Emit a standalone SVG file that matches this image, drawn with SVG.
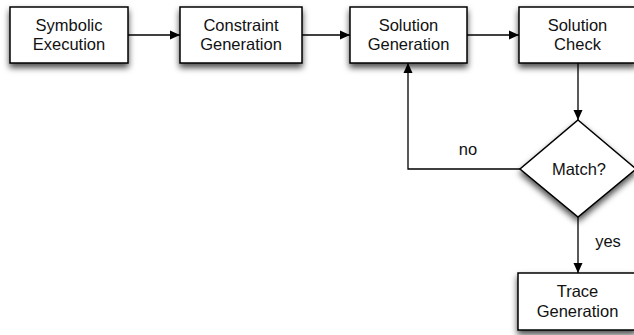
<svg xmlns="http://www.w3.org/2000/svg" width="634" height="335" viewBox="0 0 634 335">
<defs>
<filter id="sh" x="-20%" y="-20%" width="140%" height="150%">
<feDropShadow dx="0" dy="4" stdDeviation="3" flood-color="#000" flood-opacity="0.7"/>
</filter>
<marker id="ah" viewBox="0 0 10 10" refX="10" refY="5" markerWidth="10" markerHeight="10" markerUnits="userSpaceOnUse" orient="auto">
<path d="M0,0.5 L10,5 L0,9.5 Z" fill="#000"/>
</marker>
<style>
.box{fill:#fff;stroke:#000;stroke-width:1.5;filter:url(#sh)}
.t{font-family:"Liberation Sans",Arial,Helvetica,sans-serif;font-size:16.5px;fill:#111;text-anchor:middle}
.c{fill:none;stroke:#000;stroke-width:1.3;marker-end:url(#ah)}
</style>
</defs>
<rect width="634" height="335" fill="#fff"/>
<g id="connectors">
<path class="c" d="M128,35 H180"/>
<path class="c" d="M302,35 H350"/>
<path class="c" d="M467,35 H519"/>
<path class="c" d="M578,63 V120"/>
<path class="c" d="M520,169 H408 V63"/>
<path class="c" d="M578,217 V273"/>
<text class="t" x="468" y="155">no</text>
<text class="t" x="608" y="247">yes</text>
</g>
<g id="symbolic-execution">
<rect class="box" x="10" y="7" width="118" height="56"/>
<text class="t" x="69" y="31">Symbolic</text>
<text class="t" x="69" y="50">Execution</text>
</g>
<g id="constraint-generation">
<rect class="box" x="180" y="7" width="122" height="56"/>
<text class="t" x="241" y="31">Constraint</text>
<text class="t" x="241" y="50">Generation</text>
</g>
<g id="solution-generation">
<rect class="box" x="350" y="7" width="117" height="56"/>
<text class="t" x="408.5" y="31">Solution</text>
<text class="t" x="408.5" y="50">Generation</text>
</g>
<g id="solution-check">
<rect class="box" x="519" y="7" width="117" height="56"/>
<text class="t" x="577.5" y="31">Solution</text>
<text class="t" x="577.5" y="50">Check</text>
</g>
<g id="match">
<path class="box" d="M578,120 L636,169 L578,217 L520,169 Z"/>
<text class="t" x="579" y="175">Match?</text>
</g>
<g id="trace-generation">
<rect class="box" x="518" y="273" width="118" height="57"/>
<text class="t" x="577.5" y="297">Trace</text>
<text class="t" x="577.5" y="317">Generation</text>
</g>
</svg>
